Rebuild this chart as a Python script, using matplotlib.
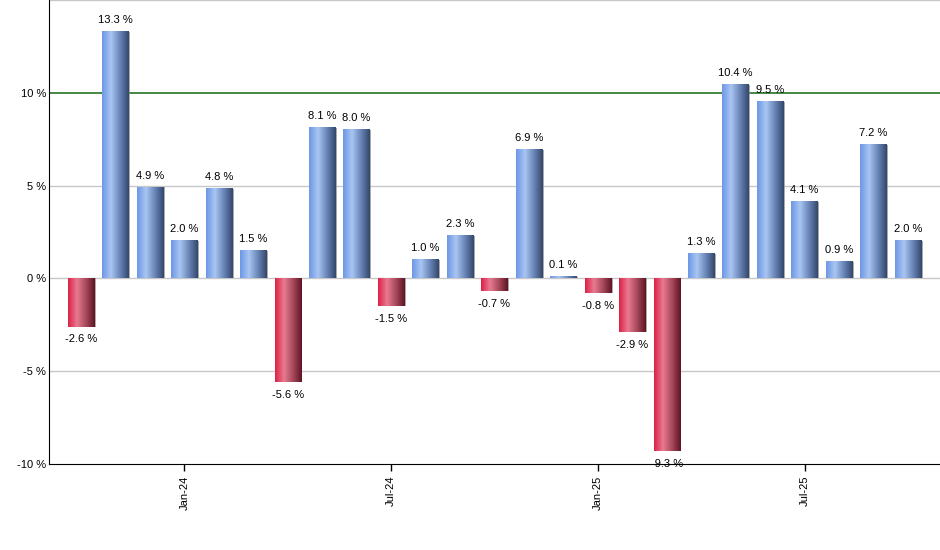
import matplotlib.pyplot as plt
import numpy as np
from matplotlib.colors import LinearSegmentedColormap

plt.rcParams['font.family'] = ['Liberation Sans', 'DejaVu Sans']

# monthly returns Oct-23 .. Oct-25
months = ['Oct-23', 'Nov-23', 'Dec-23', 'Jan-24', 'Feb-24', 'Mar-24', 'Apr-24',
          'May-24', 'Jun-24', 'Jul-24', 'Aug-24', 'Sep-24', 'Oct-24', 'Nov-24',
          'Dec-24', 'Jan-25', 'Feb-25', 'Mar-25', 'Apr-25', 'May-25', 'Jun-25',
          'Jul-25', 'Aug-25', 'Sep-25', 'Oct-25']
returns = [-2.6, 13.3, 4.9, 2.0, 4.8, 1.5, -5.6, 8.1, 8.0, -1.5, 1.0, 2.3, -0.7,
           6.9, 0.1, -0.8, -2.9, -9.3, 1.3, 10.4, 9.5, 4.1, 0.9, 7.2, 2.0]
tick_months = ['Jan-24', 'Jul-24', 'Jan-25', 'Jul-25']

blue_cm = LinearSegmentedColormap.from_list(
    'b', ['#6d98e6', '#a9c5f2', '#6a86b8', '#33476c'])
red_cm = LinearSegmentedColormap.from_list(
    'r', ['#dc2248', '#e87a90', '#a84a5c', '#601424'])
grad = np.linspace(0, 1, 64).reshape(1, -1)

fig = plt.figure(figsize=(9.4, 5.5), dpi=100)
ax = fig.add_axes([49 / 940, 1 - 464 / 550, 1 - 49 / 940, 464 / 550])

x = np.arange(len(months))
w = 0.77

for yv in [-5, 0, 5, 15]:
    ax.axhline(yv, color='#c8c8c8', lw=1, zorder=1)
ax.axhline(10, color='#0f6a0f', lw=1.1, zorder=1)

for xi, v in zip(x, returns):
    lo, hi = min(0, v), max(0, v)
    # shadow
    ax.bar(xi + 0.04, v, width=w, color='#888888', zorder=2, alpha=0.7)
    cm = blue_cm if v >= 0 else red_cm
    ax.imshow(grad, cmap=cm, aspect='auto', zorder=3,
              extent=[xi - w / 2, xi + w / 2, lo, hi], interpolation='bilinear')
    if v >= 0:
        ax.annotate(f'{v:.1f} %', (xi, v), xytext=(0, 5), textcoords='offset points',
                    ha='center', va='bottom', fontsize=8, zorder=5)
    else:
        ax.annotate(f'{v:.1f} %', (xi, v), xytext=(0, -5.5), textcoords='offset points',
                    ha='center', va='top', fontsize=8, zorder=5)

ax.set_xlim(-0.93, len(months) - 0.07)
ax.set_ylim(-10, 15)

ax.set_yticks([-10, -5, 0, 5, 10])
ax.set_yticklabels([f'{t} %' for t in [-10, -5, 0, 5, 10]], fontsize=8)
ax.tick_params(axis='y', length=0, pad=2)
ax.set_xticks([months.index(m) for m in tick_months])
ax.set_xticklabels(tick_months, rotation=90, fontsize=8)
ax.tick_params(axis='x', length=5, width=1)

for s in ['top', 'right']:
    ax.spines[s].set_visible(False)
ax.spines['left'].set_color('black')
ax.spines['bottom'].set_color('black')

plt.savefig('out.png', dpi=100)
